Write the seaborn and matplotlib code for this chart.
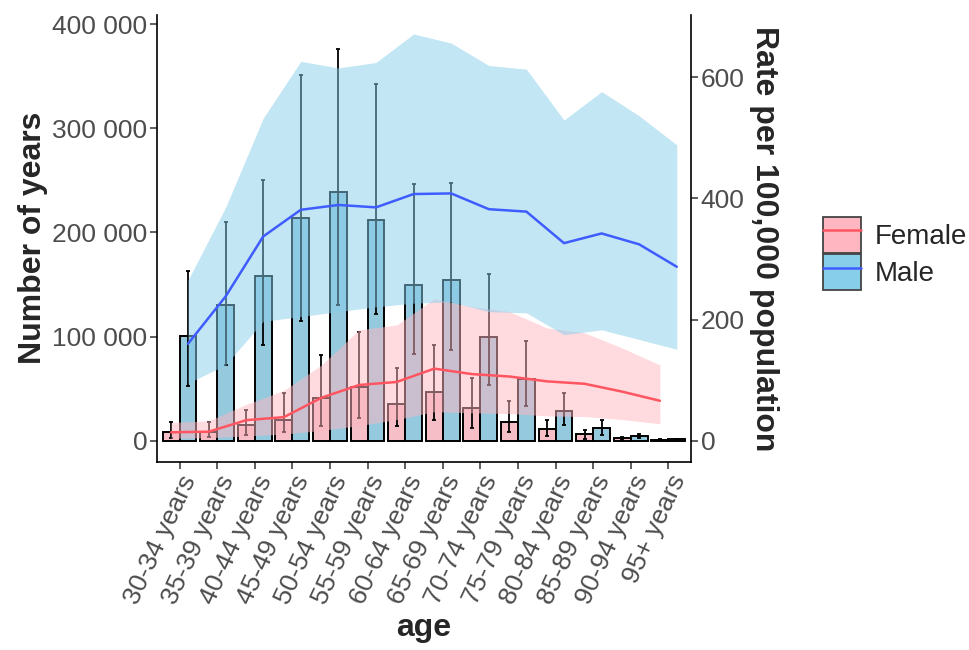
import numpy as np
import pandas as pd
import matplotlib
matplotlib.use('Agg')
import matplotlib.pyplot as plt
from matplotlib.ticker import FuncFormatter, MultipleLocator
from matplotlib.patches import Patch
from matplotlib.lines import Line2D
import seaborn as sns

#------------------------
# data
#------------------------
ages = ['30-34 years', '35-39 years', '40-44 years', '45-49 years', '50-54 years',
        '55-59 years', '60-64 years', '65-69 years', '70-74 years', '75-79 years',
        '80-84 years', '85-89 years', '90-94 years', '95+ years']
sexes = ['Female', 'Male']

# number of years (left axis)
female_years = [8600, 8000, 15400, 20000, 41000, 52100, 35500, 46700, 31400, 18500, 11000, 6200, 2600, 1000]
female_lo = [2600, 3200, 5800, 8000, 13800, 21800, 14400, 19500, 12200, 8000, 4200, 1600, 1200, 400]
female_hi = [17600, 17600, 29800, 45800, 82500, 104300, 69800, 92100, 60200, 38400, 20200, 10600, 4000, 1600]
male_years = [100800, 130500, 158400, 213700, 238400, 212100, 149800, 154600, 99200, 59500, 28200, 12200, 4400, 1300]
male_lo = [52800, 72300, 91800, 114600, 130600, 121900, 83500, 87400, 53800, 33000, 14700, 5500, 2600, 600]
male_hi = [163200, 209600, 250200, 351000, 376000, 342400, 246400, 247700, 160000, 96000, 45800, 20200, 6400, 2000]

# rate per 100,000 (right axis)
female_rate = [14, 15, 34, 39, 71, 92, 97, 119, 110, 106, 98, 94, 81, 66]
female_rate_lo = [4, 5, 8, 11, 17, 25, 35, 48, 46, 45, 41, 40, 35, 28]
female_rate_hi = [30, 33, 60, 83, 125, 183, 191, 234, 221, 213, 186, 178, 153, 125]
male_rate = [160, 238, 337, 381, 389, 385, 407, 408, 382, 378, 326, 342, 324, 287]
male_rate_lo = [95, 125, 197, 205, 213, 221, 227, 229, 213, 211, 175, 183, 167, 151]
male_rate_hi = [265, 385, 532, 626, 615, 624, 671, 656, 619, 613, 529, 576, 536, 488]

# secondary axis scale: years = rate * 582
scale = 582

fill_cols = {'Female': '#FFB6C1', 'Male': '#87CEEB'}
line_cols = {'Female': '#FF5560', 'Male': '#3F5CFF'}

bars = pd.DataFrame({
    'age': ages * 2,
    'sex': ['Female'] * len(ages) + ['Male'] * len(ages),
    'years': female_years + male_years,
    'lo': female_lo + male_lo,
    'hi': female_hi + male_hi,
})
rates = {
    'Female': (female_rate, female_rate_lo, female_rate_hi),
    'Male': (male_rate, male_rate_lo, male_rate_hi),
}

#------------------------
# plot
#------------------------
sns.set_style('white')
plt.rcParams['font.family'] = ['Liberation Sans', 'DejaVu Sans']

fig, ax = plt.subplots(figsize=(9.69, 6.5), dpi=100)
fig.subplots_adjust(left=0.162, right=0.713, top=0.977, bottom=0.290)

sns.barplot(data=bars, x='age', y='years', hue='sex', hue_order=sexes,
            palette=fill_cols, width=0.9, edgecolor='black', linewidth=1.4,
            errorbar=None, legend=False, ax=ax)

# bar centres per sex, taken from the drawn bars
centres = {}
for sex, cont in zip(sexes, ax.containers):
    centres[sex] = np.array([p.get_x() + p.get_width() / 2 for p in cont])
    sub = bars[bars.sex == sex]
    y = sub.years.values
    ax.errorbar(centres[sex], y, yerr=[y - sub.lo.values, sub.hi.values - y],
                fmt='none', ecolor='black', elinewidth=1.3, capsize=1.6, capthick=1.3)

ax.set_xlim(-0.6, len(ages) - 0.4)
ax.set_ylim(-19900, 408800)
ax.yaxis.set_major_locator(MultipleLocator(100000))
ax.yaxis.set_major_formatter(FuncFormatter(lambda v, p: f'{int(v):,}'.replace(',', ' ')))

ax2 = ax.twinx()
ax2.set_ylim(np.array(ax.get_ylim()) / scale)
for sex in sexes:
    r, lo, hi = rates[sex]
    ax2.fill_between(centres[sex], lo, hi, color=fill_cols[sex], alpha=0.5, lw=0)
for sex in sexes:
    sns.lineplot(x=centres[sex], y=rates[sex][0], color=line_cols[sex], lw=1.8, ax=ax2)
ax2.yaxis.set_major_locator(MultipleLocator(200))

# axes styling
for a in (ax, ax2):
    for s in a.spines.values():
        s.set_linewidth(1.2)
        s.set_color('black')
    a.spines['top'].set_visible(False)
ax.spines['right'].set_visible(False)
ax2.spines['left'].set_visible(False)
ax2.spines['bottom'].set_visible(False)

ax.tick_params(axis='both', length=5, width=1.1, color='#333333',
               labelsize=19, labelcolor='#4D4D4D', pad=2, left=True, bottom=True)
ax2.tick_params(axis='y', length=5, width=1.1, color='#333333',
                labelsize=19, labelcolor='#4D4D4D', pad=2, right=True)
plt.setp(ax.get_xticklabels(), rotation=65, ha='right', va='top', rotation_mode='anchor')

ax.set_xlabel('age', fontsize=23, fontweight='bold', labelpad=4)
ax.set_ylabel('Number of years', fontsize=23, fontweight='bold', labelpad=3)
ax2.set_ylabel('Rate per 100,000 population', fontsize=23, fontweight='bold',
               rotation=-90, va='bottom', labelpad=3)

handles = [(Patch(facecolor=fill_cols[s], edgecolor='#444444', lw=1.3),
            Line2D([], [], color=line_cols[s], lw=1.8)) for s in sexes]
fig.legend(handles, sexes, loc='upper left', bbox_to_anchor=(823 / 969, 1 - 217 / 650),
           frameon=False, fontsize=20, borderpad=0, borderaxespad=0,
           handlelength=1.37, handleheight=1.6, labelspacing=0.05, handletextpad=0.5)

fig.savefig('out.png', dpi=100)
